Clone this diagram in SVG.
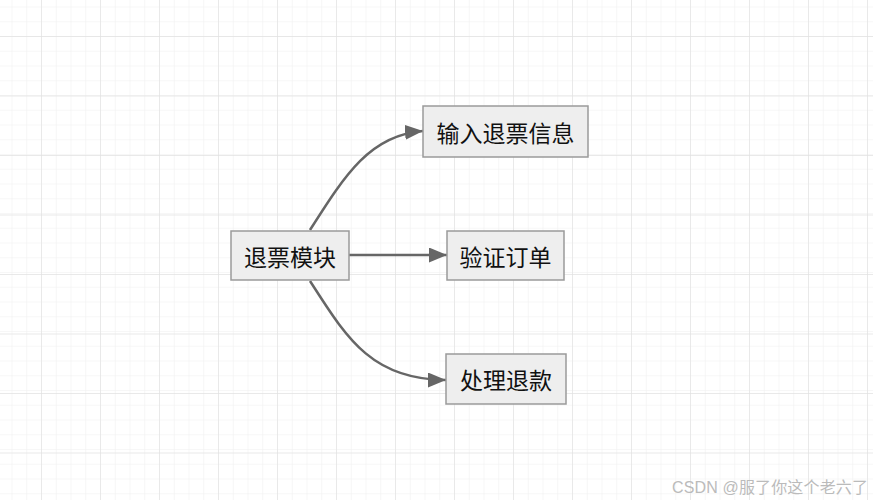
<svg xmlns="http://www.w3.org/2000/svg" width="873" height="500" viewBox="0 0 873 500">
<defs>
<pattern id="minor" x="11.5" y="6.5" width="14.75" height="14.75" patternUnits="userSpaceOnUse">
<path d="M0,0 V14.75 M0,0 H14.75" fill="none" stroke="#f0f0f0" stroke-width="1.2"/>
</pattern>
<pattern id="major" x="41" y="36" width="59" height="59.5" patternUnits="userSpaceOnUse">
<path d="M0,0 V59.5 M0,0 H59" fill="none" stroke="#e2e2e2" stroke-width="1.3"/>
</pattern>
<marker id="arr" markerUnits="userSpaceOnUse" markerWidth="20" markerHeight="16" refX="18" refY="7.5" orient="auto">
<path d="M0,0 L18,7.5 L0,15 z" fill="#666"/>
</marker>
</defs>
<style>
.node rect{fill:#eeeeee;stroke:#9a9a9a;stroke-width:1.5}
.node text{font-family:"Noto Sans CJK SC","Microsoft YaHei",sans-serif;font-size:23px;fill:#111;text-anchor:middle;dominant-baseline:central}
.edge{fill:none;stroke:#666;stroke-width:2.5;marker-end:url(#arr)}
</style>
<rect width="873" height="500" fill="#fff"/>
<rect width="873" height="500" fill="url(#minor)"/>
<rect width="873" height="500" fill="url(#major)"/>
<g id="connectors">
<path class="edge" d="M310,230 C345,175 370,135 423,131"/>
<path class="edge" d="M349,255 L447,255"/>
<path class="edge" d="M310,281 C345,335 370,380 446,380"/>
</g>
<g id="n1" class="node"><rect x="231" y="231" width="118" height="49"/><text x="290" y="255.5">退票模块</text></g>
<g id="n2" class="node"><rect x="423" y="106" width="165" height="51"/><text x="505.5" y="131.5">输入退票信息</text></g>
<g id="n3" class="node"><rect x="447" y="231" width="117" height="49"/><text x="505.5" y="255.5">验证订单</text></g>
<g id="n4" class="node"><rect x="446" y="354" width="120" height="50"/><text x="506" y="379">处理退款</text></g>
<text x="672" y="493" font-family="'Liberation Sans','Noto Sans CJK SC',sans-serif" font-size="16" fill="#bbb" textLength="196">CSDN @服了你这个老六了</text>
</svg>
